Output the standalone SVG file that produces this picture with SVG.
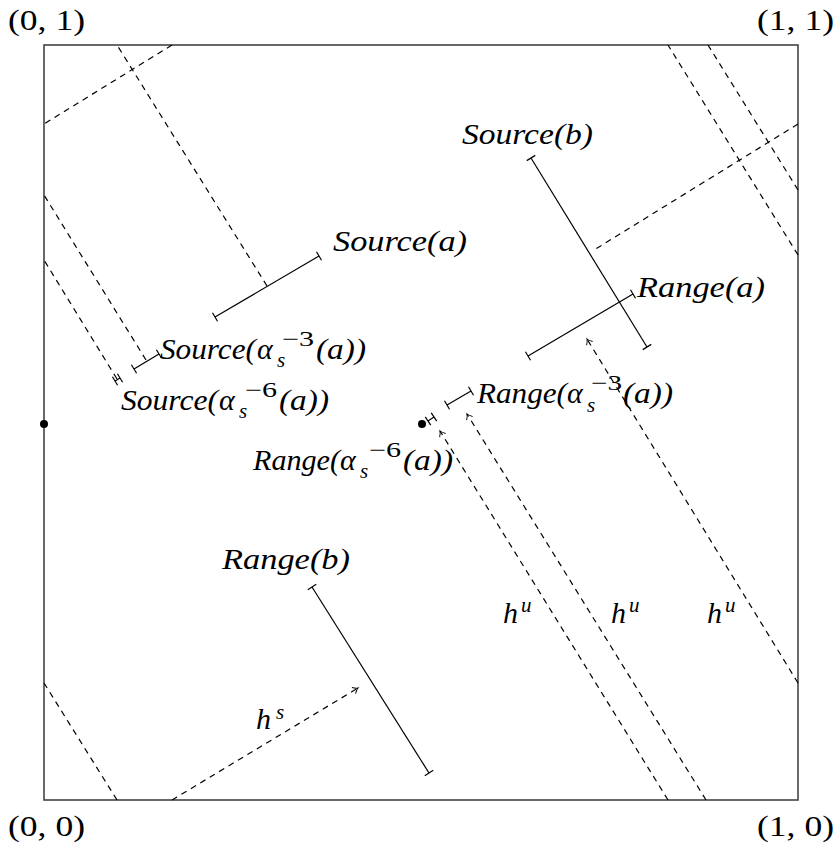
<svg xmlns="http://www.w3.org/2000/svg" width="837" height="850" viewBox="0 0 837 850">
<style>
.m{font-family:"Liberation Serif","Times New Roman",serif;font-style:italic;font-size:30px;fill:#000}
.ms{font-family:"Liberation Serif","Times New Roman",serif;font-style:italic;font-size:21px;fill:#000}
.r{font-family:"Liberation Serif","Times New Roman",serif;font-size:30px;fill:#000}
.rs{font-family:"Liberation Serif","Times New Roman",serif;font-size:21px;fill:#000}
.seg{stroke:#000;stroke-width:1.2;fill:none;marker-start:url(#tick);marker-end:url(#tick)}
.dash{stroke:#000;stroke-width:1.2;fill:none;stroke-dasharray:6 5}
.arr{marker-end:url(#arrow)}
</style>
<defs>
<marker id="tick" markerUnits="userSpaceOnUse" orient="auto" markerWidth="12" markerHeight="12" viewBox="-6 -6 12 12" refX="0" refY="0" overflow="visible">
<path d="M0,-5 L0,5" stroke="#000" stroke-width="1.2" fill="none"/>
</marker>
<marker id="arrow" markerUnits="userSpaceOnUse" orient="auto" markerWidth="12" markerHeight="12" viewBox="-6 -6 12 12" refX="0" refY="0" overflow="visible">
<path d="M-5,-3.5 Q-2,-0.6 0,0 Q-2,0.6 -5,3.5" stroke="#000" stroke-width="1" fill="none"/>
</marker>
</defs>
<rect width="837" height="850" fill="#fff"/>
<rect id="square" x="44" y="45" width="754" height="755" fill="none" stroke="#444" stroke-width="1.6"/>
<g id="corners">
<text class="r" x="8" y="30" textLength="77" lengthAdjust="spacingAndGlyphs">(0, 1)</text>
<text class="r" x="757" y="30" textLength="77" lengthAdjust="spacingAndGlyphs">(1, 1)</text>
<text class="r" x="8" y="836" textLength="77" lengthAdjust="spacingAndGlyphs">(0, 0)</text>
<text class="r" x="757" y="836" textLength="77" lengthAdjust="spacingAndGlyphs">(1, 0)</text>
</g>
<g id="connectors">
<line class="dash arr" x1="172" y1="800" x2="358" y2="688"/>
<line class="dash" x1="172" y1="45" x2="44" y2="124"/>
<line class="dash" x1="798" y1="124" x2="594" y2="250"/>
<line class="dash" x1="267" y1="286" x2="117" y2="45"/>
<line class="dash" x1="117" y1="800" x2="44" y2="683"/>
<line class="dash arr" x1="798" y1="683" x2="587" y2="339"/>
<line class="dash" x1="146" y1="360" x2="44" y2="195"/>
<line class="dash" x1="798" y1="190" x2="708" y2="45"/>
<line class="dash arr" x1="706" y1="800" x2="467" y2="414"/>
<line class="dash" x1="117" y1="379" x2="44" y2="260"/>
<line class="dash" x1="798" y1="255" x2="668" y2="45"/>
<line class="dash arr" x1="668" y1="800" x2="440" y2="431"/>
</g>
<g id="dots">
<circle cx="44" cy="424" r="4" fill="#000"/>
<circle cx="422" cy="424" r="4" fill="#000"/>
</g>
<g id="source-a">
<line class="seg" x1="215" y1="317" x2="319" y2="256"/>
<text class="m" x="333" y="251" textLength="134" lengthAdjust="spacingAndGlyphs">Source(a)</text>
</g>
<g id="range-a">
<line class="seg" x1="528" y1="356" x2="633" y2="294"/>
<text class="m" x="637" y="297" textLength="128" lengthAdjust="spacingAndGlyphs">Range(a)</text>
</g>
<g id="source-b">
<line class="seg" x1="531" y1="158" x2="647" y2="347"/>
<text class="m" x="462" y="144" textLength="131" lengthAdjust="spacingAndGlyphs">Source(b)</text>
</g>
<g id="range-b">
<line class="seg" x1="312" y1="587" x2="429" y2="773"/>
<text class="m" x="222" y="569" textLength="128" lengthAdjust="spacingAndGlyphs">Range(b)</text>
</g>
<g id="source-a3">
<line class="seg" x1="134" y1="369" x2="159" y2="354"/>
<text class="m" x="160" y="359" textLength="96" lengthAdjust="spacingAndGlyphs">Source(</text>
<text class="m" x="257" y="359">α</text>
<text class="ms" x="277" y="367">s</text>
<text class="rs" x="282" y="346" textLength="32" lengthAdjust="spacingAndGlyphs">−3</text>
<text class="m" x="316" y="359" textLength="50" lengthAdjust="spacingAndGlyphs">(a))</text>
</g>
<g id="source-a6">
<line class="seg" x1="115" y1="381" x2="120" y2="378"/>
<text class="m" x="121" y="410" textLength="97" lengthAdjust="spacingAndGlyphs">Source(</text>
<text class="m" x="219" y="410">α</text>
<text class="ms" x="239" y="418">s</text>
<text class="rs" x="245" y="397" textLength="32" lengthAdjust="spacingAndGlyphs">−6</text>
<text class="m" x="279" y="410" textLength="50" lengthAdjust="spacingAndGlyphs">(a))</text>
</g>
<g id="range-a3">
<line class="seg" x1="447" y1="405" x2="471" y2="391"/>
<text class="m" x="477" y="403" textLength="90" lengthAdjust="spacingAndGlyphs">Range(</text>
<text class="m" x="567" y="403">α</text>
<text class="ms" x="587" y="412">s</text>
<text class="rs" x="591" y="390" textLength="31" lengthAdjust="spacingAndGlyphs">−3</text>
<text class="m" x="623" y="403" textLength="50" lengthAdjust="spacingAndGlyphs">(a))</text>
</g>
<g id="range-a6">
<line class="seg" x1="428" y1="421" x2="434" y2="417"/>
<text class="m" x="253" y="470" textLength="87" lengthAdjust="spacingAndGlyphs">Range(</text>
<text class="m" x="340" y="470">α</text>
<text class="ms" x="360" y="478">s</text>
<text class="rs" x="369" y="457" textLength="32" lengthAdjust="spacingAndGlyphs">−6</text>
<text class="m" x="403" y="470" textLength="50" lengthAdjust="spacingAndGlyphs">(a))</text>
</g>
<g id="labels-h">
<text class="m" x="503" y="623">h</text><text class="ms" x="521" y="612">u</text>
<text class="m" x="611" y="623">h</text><text class="ms" x="629" y="612">u</text>
<text class="m" x="707" y="623">h</text><text class="ms" x="725" y="612">u</text>
<text class="m" x="256" y="729">h</text><text class="ms" x="276" y="719">s</text>
</g>
</svg>
